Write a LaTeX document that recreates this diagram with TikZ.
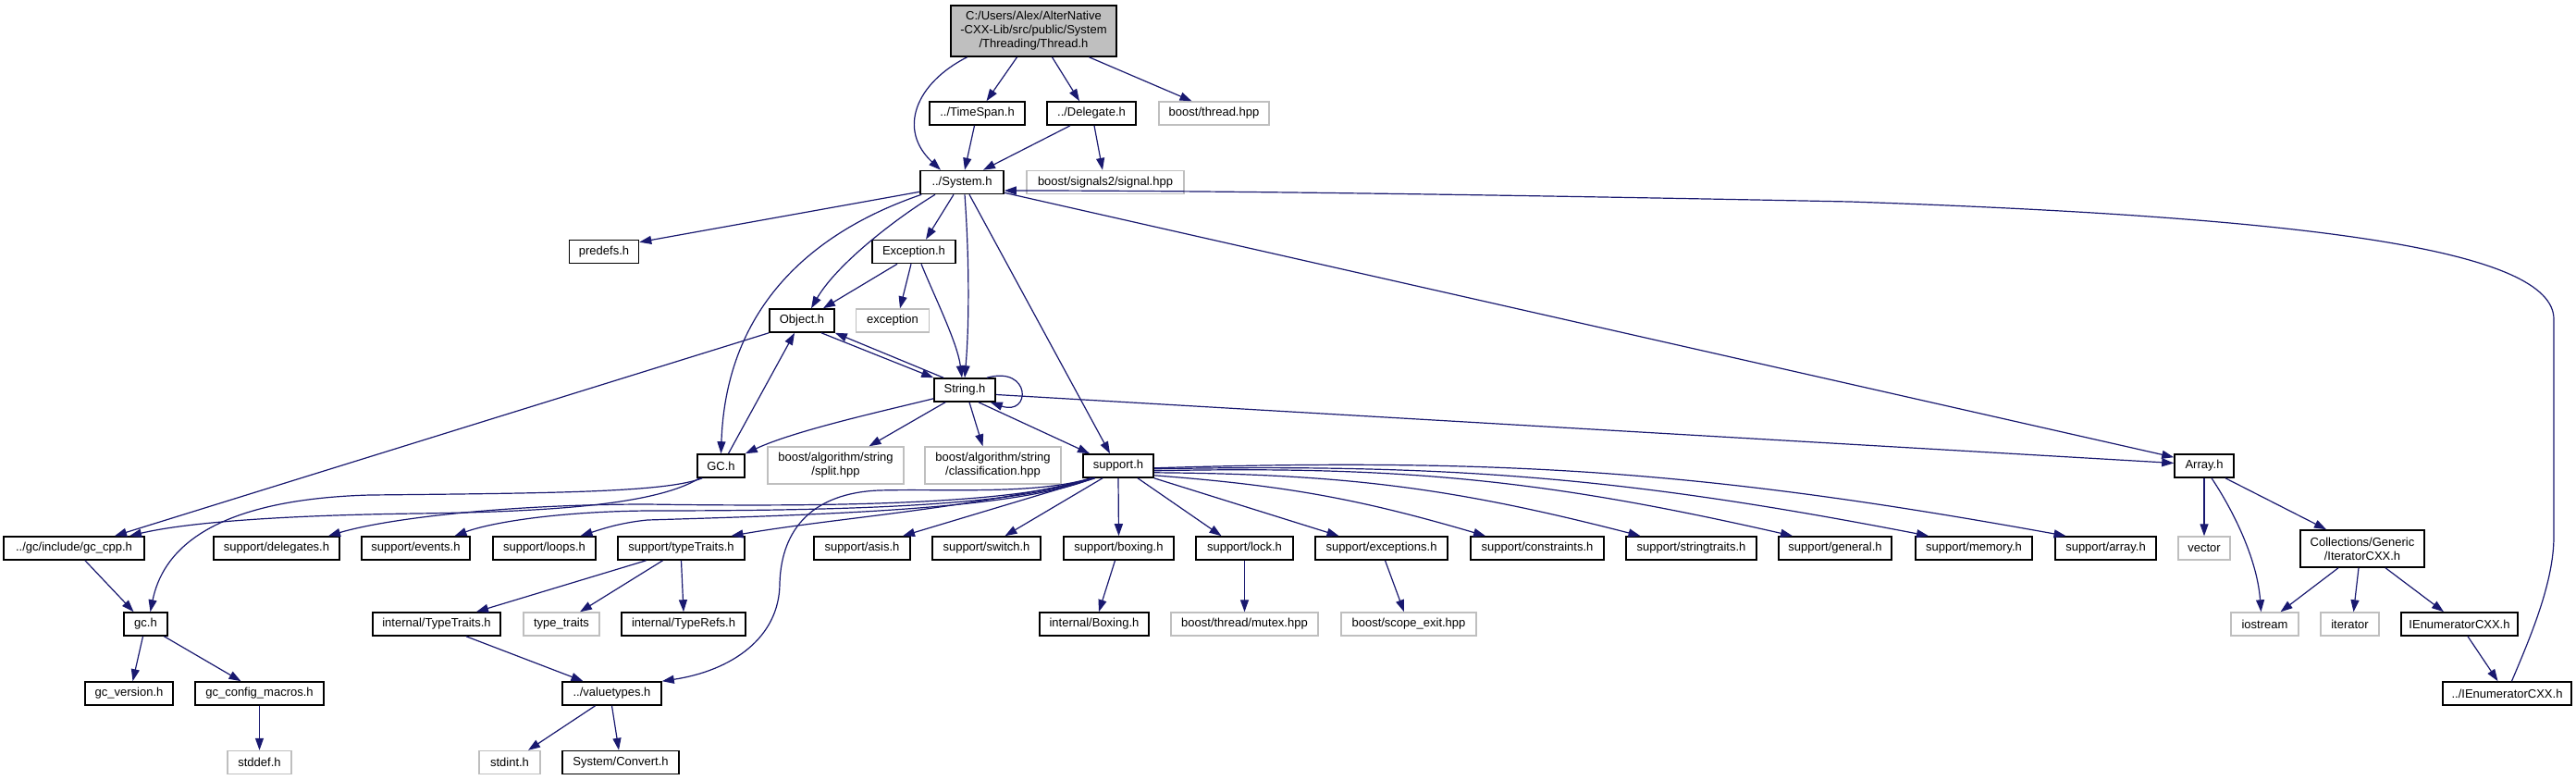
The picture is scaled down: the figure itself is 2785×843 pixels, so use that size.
\documentclass[tikz,border=0pt]{standalone}
\usepackage{fontspec}
\setmainfont{Liberation Sans}
\usetikzlibrary{arrows.meta}
\definecolor{edgeblue}{HTML}{191970}
\definecolor{extgray}{HTML}{BFBFBF}
\tikzset{
  hfile/.style={draw=black, line width=1.6pt, fill=white, inner sep=0pt,
    minimum height=25pt, align=center, font=\fontsize{13}{15}\selectfont},
  hext/.style={hfile, draw=extgray, line width=1.4pt},
  hroot/.style={hfile, fill=extgray},
  inc/.style={draw=edgeblue, line width=1.2pt, -{Triangle[length=13pt,width=9pt]}}
}
\begin{document}
\begin{tikzpicture}[x=1pt,y=-1pt]
\fill[white] (0,0) rectangle (2785,843);
\useasboundingbox (0,0) rectangle (2785,843);
% top rows
\node[hroot, minimum width=179pt, minimum height=55pt] (thread) at (1117.5,33.5) {C:/Users/Alex/AlterNative\\-CXX-Lib/src/public/System\\/Threading/Thread.h};
\node[hfile, minimum width=103pt] (timespan) at (1056.5,122.5) {../TimeSpan.h};
\node[hfile, minimum width=96pt] (delegate) at (1180,122.5) {../Delegate.h};
\node[hext, minimum width=119pt] (bthread) at (1312.5,122.5) {boost/thread.hpp};
\node[hfile, minimum width=90pt] (sys) at (1040,197) {../System.h};
\node[hext, minimum width=170pt] (signals) at (1195,197) {boost/signals2/signal.hpp};
\node[hfile, minimum width=75pt] (predefs) at (653,272) {predefs.h};
\node[hfile, minimum width=90pt] (excp) at (988,272) {Exception.h};
\node[hfile, minimum width=70pt] (object) at (867,346.5) {Object.h};
\node[hext, minimum width=79pt] (stdexc) at (965,346.5) {exception};
\node[hfile, minimum width=66pt] (string) at (1043,421.5) {String.h};
\node[hfile, minimum width=51pt] (gcobj) at (779.5,503.5) {GC.h};
\node[hext, minimum width=147pt, minimum height=40pt] (split) at (903.5,503) {boost/algorithm/string\\/split.hpp};
\node[hext, minimum width=147pt, minimum height=40pt] (classif) at (1073.5,503) {boost/algorithm/string\\/classification.hpp};
\node[hfile, minimum width=76pt] (support) at (1209,503.5) {support.h};
\node[hfile, minimum width=64pt] (array) at (2383,503.5) {Array.h};
% support row
\node[hfile, minimum width=152pt] (gccpp) at (80,592.5) {../gc/include/gc\_cpp.h};
\node[hfile, minimum width=136pt] (sdeleg) at (299,592.5) {support/delegates.h};
\node[hfile, minimum width=117pt] (sevents) at (449.5,592.5) {support/events.h};
\node[hfile, minimum width=111pt] (sloops) at (588.5,592.5) {support/loops.h};
\node[hfile, minimum width=137pt] (stypetr) at (736.5,592.5) {support/typeTraits.h};
\node[hfile, minimum width=104pt] (sasis) at (932,592.5) {support/asis.h};
\node[hfile, minimum width=117pt] (sswitch) at (1066.5,592.5) {support/switch.h};
\node[hfile, minimum width=119pt] (sboxing) at (1209.5,592.5) {support/boxing.h};
\node[hfile, minimum width=105pt] (slock) at (1345.5,592.5) {support/lock.h};
\node[hfile, minimum width=143pt] (sexcept) at (1493.5,592.5) {support/exceptions.h};
\node[hfile, minimum width=144pt] (sconstr) at (1662,592.5) {support/constraints.h};
\node[hfile, minimum width=141pt] (sstrtr) at (1828.5,592.5) {support/stringtraits.h};
\node[hfile, minimum width=122pt] (sgeneral) at (1984,592.5) {support/general.h};
\node[hfile, minimum width=126pt] (smemory) at (2134,592.5) {support/memory.h};
\node[hfile, minimum width=109pt] (sarray) at (2276.5,592.5) {support/array.h};
\node[hext, minimum width=56pt] (vector) at (2383,592.5) {vector};
\node[hfile, minimum width=134pt, minimum height=40pt] (iter) at (2554,593) {Collections/Generic\\/IteratorCXX.h};
% lower rows
\node[hfile, minimum width=47pt] (gch) at (157.5,674.5) {gc.h};
\node[hfile, minimum width=138pt] (itypetr) at (472,674.5) {internal/TypeTraits.h};
\node[hext, minimum width=82pt] (typetr) at (607,674.5) {type\_traits};
\node[hfile, minimum width=134pt] (itypref) at (739,674.5) {internal/TypeRefs.h};
\node[hfile, minimum width=118pt] (iboxing) at (1183,674.5) {internal/Boxing.h};
\node[hext, minimum width=159pt] (mutex) at (1345.5,674.5) {boost/thread/mutex.hpp};
\node[hext, minimum width=146pt] (scope) at (1523,674.5) {boost/scope\_exit.hpp};
\node[hext, minimum width=73pt] (iostream) at (2448.5,674.5) {iostream};
\node[hext, minimum width=63pt] (iterator) at (2540.5,674.5) {iterator};
\node[hfile, minimum width=126pt] (ienum) at (2659,674.5) {IEnumeratorCXX.h};
\node[hfile, minimum width=95pt] (gcver) at (139.5,749.5) {gc\_version.h};
\node[hfile, minimum width=139pt] (gcconf) at (280.5,749.5) {gc\_config\_macros.h};
\node[hfile, minimum width=107pt] (valtypes) at (661.5,749.5) {../valuetypes.h};
\node[hfile, minimum width=139pt] (ienum2) at (2710.5,749.5) {../IEnumeratorCXX.h};
\node[hext, minimum width=69pt] (stddef) at (280.5,824) {stddef.h};
\node[hext, minimum width=66pt] (stdint) at (551,824) {stdint.h};
\node[hfile, minimum width=126pt] (convert) at (671,824) {System/Convert.h};
% Thread.h
\draw[inc] ([xshift=-72pt]thread.south) .. controls (990,90) and (970,140) .. ([xshift=-23pt]sys.north);
\draw[inc] ([xshift=-18pt]thread.south) -- ([xshift=10pt]timespan.north);
\draw[inc] ([xshift=20pt]thread.south) -- ([xshift=-13pt]delegate.north);
\draw[inc] ([xshift=60pt]thread.south) -- ([xshift=-24pt]bthread.north);
\draw[inc] ([xshift=-3pt]timespan.south) -- ([xshift=3pt]sys.north);
\draw[inc] ([xshift=-23pt]delegate.south) -- ([xshift=23pt]sys.north);
\draw[inc] ([xshift=3pt]delegate.south) -- ([xshift=-3pt]signals.north);
% System.h
\draw[inc] ([yshift=3pt]sys.south west) -- ([yshift=-3pt]predefs.north east);
\draw[inc] ([xshift=-29pt]sys.south) .. controls (970,235) and (905,285) .. ([xshift=10pt]object.north);
\draw[inc] ([xshift=2pt]sys.south west) .. controls (880,250) and (785,330) .. (gcobj.north);
\draw[inc] ([xshift=-9pt]sys.south) -- ([xshift=13pt]excp.north);
\draw[inc] ([xshift=3pt]sys.south) .. controls (1048,280) and (1048,350) .. (string.north);
\draw[inc] ([xshift=8pt]sys.south) -- ([xshift=-9pt]support.north);
\draw[inc] ([yshift=2pt]sys.south east) -- ([yshift=-4pt]array.north west);
% Exception.h and Object.h
\draw[inc] ([xshift=-18pt]excp.south) -- ([xshift=23pt]object.north);
\draw[inc] ([xshift=-3pt]excp.south) -- ([xshift=8pt]stdexc.north);
\draw[inc] ([xshift=8pt]excp.south) .. controls (1010,320) and (1035,370) .. ([xshift=-3pt]string.north);
\draw[inc] ([xshift=21pt]object.south) -- (string.north west);
\draw[inc] (object.south west) -- ([xshift=44pt]gccpp.north);
% String.h
\draw[inc] ([xshift=-23pt]string.north) -- (object.south east);
\draw[inc] ([xshift=24pt]string.north) .. controls (1115,395) and (1115,450) .. ([xshift=-6pt]string.south east);
\draw[inc] ([yshift=4pt]string.south west) .. controls (960,443) and (860,465) .. (gcobj.north east);
\draw[inc] ([xshift=-21pt]string.south) -- ([xshift=36pt]split.north);
\draw[inc] ([xshift=5pt]string.south) -- ([xshift=-11pt]classif.north);
\draw[inc] ([xshift=15pt]string.south) -- ([xshift=-31pt]support.north);
\draw[inc] ([yshift=-5pt]string.east) -- ([yshift=3pt]array.west);
% GC.h and gc
\draw[inc] ([xshift=8pt]gcobj.north) -- ([xshift=-8pt]object.south);
\draw[inc] ([xshift=6pt]gcobj.south west) .. controls (720,532) and (600,533) .. (400,535) .. controls (220,540) and (175,600) .. ([xshift=5pt]gch.north);
\draw[inc] ([xshift=3pt]gcobj.south west) .. controls (710,545) and (600,553) .. (450,555) .. controls (300,557) and (200,565) .. ([xshift=60pt]gccpp.north);
\draw[inc] ([xshift=12pt]gccpp.south) -- ([xshift=-13pt]gch.north);
\draw[inc] ([xshift=-3pt]gch.south) -- ([xshift=4pt]gcver.north);
\draw[inc] ([xshift=20pt]gch.south) -- ([xshift=-20pt]gcconf.north);
\draw[inc] (gcconf) -- (stddef);
% support.h
\draw[inc] ([xshift=-29pt]support.south) .. controls (1100,545) and (900,548) .. (700,545) .. controls (550,545) and (420,560) .. ([xshift=56pt]sdeleg.north);
\draw[inc] ([xshift=-29pt]support.south) .. controls (1100,548) and (900,552) .. (700,552) .. controls (600,553) and (530,565) .. ([xshift=42pt]sevents.north);
\draw[inc] ([xshift=-27pt]support.south) .. controls (1100,550) and (900,556) .. (700,562) .. controls (670,565) and (650,572) .. ([xshift=39pt]sloops.north);
\draw[inc] ([xshift=-26pt]support.south) .. controls (1050,550) and (900,560) .. ([xshift=54pt]stypetr.north);
\draw[inc] ([xshift=-25pt]support.south) -- ([xshift=44pt]sasis.north);
\draw[inc] ([xshift=-17pt]support.south) -- ([xshift=20pt]sswitch.north);
\draw[inc] (support.south) -- (sboxing.north);
\draw[inc] ([xshift=21pt]support.south) -- ([xshift=-25pt]slock.north);
\draw[inc] (support.south east) -- ([xshift=-46pt]sexcept.north);
\draw[inc] ([yshift=3pt]support.south east) to[bend left=6] ([xshift=-56pt]sconstr.north);
\draw[inc] ([yshift=6pt]support.south east) to[bend left=7] ([xshift=-55pt]sstrtr.north);
\draw[inc] ([yshift=8pt]support.south east) to[bend left=7] ([xshift=-46pt]sgeneral.north);
\draw[inc] ([yshift=10pt]support.south east) to[bend left=6] ([xshift=-49pt]smemory.north);
\draw[inc] ([yshift=11pt]support.south east) to[bend left=6] ([xshift=-43pt]sarray.north);
\draw[inc] ([xshift=-30pt]support.south) .. controls (1120,535) and (1020,528) .. (950,530) .. controls (880,533) and (845,570) .. (843,630) .. controls (843,690) and (790,725) .. (valtypes.north east);
% lower levels
\draw[inc] ([xshift=-38pt]stypetr.south) -- ([xshift=43pt]itypetr.north);
\draw[inc] ([xshift=-20pt]stypetr.south) -- ([xshift=20pt]typetr.north);
\draw[inc] (stypetr.south) -- (itypref.north);
\draw[inc] ([xshift=32pt]itypetr.south) -- ([xshift=-31pt]valtypes.north);
\draw[inc] ([xshift=-18pt]valtypes.south) -- ([xshift=20pt]stdint.north);
\draw[inc] (valtypes.south) -- ([xshift=-2pt]convert.north);
\draw[inc] ([xshift=-4pt]sboxing.south) -- ([xshift=5pt]iboxing.north);
\draw[inc] (slock) -- (mutex);
\draw[inc] ([xshift=4pt]sexcept.south) -- ([xshift=-5pt]scope.north);
% Array.h
\draw[inc] (array) -- (vector);
\draw[inc] ([xshift=8pt]array.south) .. controls (2410,545) and (2440,600) .. ([xshift=-4pt]iostream.north);
\draw[inc] ([xshift=23pt]array.south) -- ([xshift=-39pt]iter.north);
\draw[inc] ([xshift=-26pt]iter.south) -- ([xshift=17pt]iostream.north);
\draw[inc] ([xshift=-4pt]iter.south) -- ([xshift=4pt]iterator.north);
\draw[inc] ([xshift=25pt]iter.south) -- ([xshift=-17pt]ienum.north);
\draw[inc] ([xshift=9pt]ienum.south) -- ([xshift=-10pt]ienum2.north);
\draw[inc] ([xshift=5pt]ienum2.north) .. controls (2735,690) and (2761,630) .. (2761,580) -- (2761,345) .. controls (2761,270) and (2500,235) .. (2000,218) .. controls (1600,210) and (1300,206) .. ([yshift=-9pt]sys.east);
\end{tikzpicture}
\end{document}
